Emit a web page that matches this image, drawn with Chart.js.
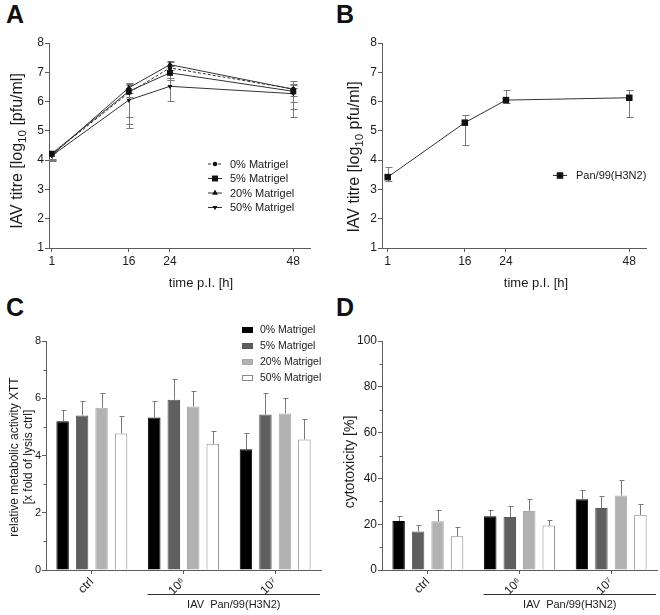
<!DOCTYPE html>
<html><head><meta charset="utf-8">
<script src="https://cdn.jsdelivr.net/npm/chart.js@4.4.1/dist/chart.umd.min.js"></script>
<style>
body{margin:0;background:#fff;width:660px;height:615px;position:relative;overflow:hidden;font-family:"Liberation Sans",Arial,sans-serif;}
.cv{position:absolute;}
.lab{position:absolute;font-weight:bold;font-size:25px;line-height:25px;color:#111;}
</style></head><body>
<div class="lab" style="left:6px;top:2px">A</div>
<div class="lab" style="left:336px;top:2px">B</div>
<div class="lab" style="left:6px;top:295px">C</div>
<div class="lab" style="left:336px;top:295px">D</div>
<canvas id="cA" class="cv" width="330" height="300" style="left:0;top:0"></canvas>
<canvas id="cB" class="cv" width="330" height="300" style="left:330px;top:0"></canvas>
<canvas id="cC" class="cv" width="330" height="305" style="left:0;top:310px"></canvas>
<canvas id="cD" class="cv" width="330" height="305" style="left:330px;top:310px"></canvas>
<script>
// ---------- data ----------
const hoursPI = [1, 16, 24, 48];
const titreTicks = [1, 2, 3, 4, 5, 6, 7, 8];
const matrigelSeries = ['0% Matrigel', '5% Matrigel', '20% Matrigel', '50% Matrigel'];

const titreM0 = [4.20, 6.30, 7.15, 6.43];
const titreM0Low = [4.02, 5.23, 6.80, 6.00];
const titreM0High = [4.30, 6.55, 7.35, 6.69];
const titreM5 = [4.22, 6.35, 6.98, 6.35];
const titreM5Low = [4.05, 5.49, 6.75, 5.75];
const titreM5High = [4.28, 6.60, 7.20, 6.55];
const titreM20 = [4.17, 6.47, 7.26, 6.42];
const titreM20Low = [4.00, 6.15, 7.08, 6.20];
const titreM20High = [4.27, 6.65, 7.40, 6.60];
const titreM50 = [4.15, 6.05, 6.52, 6.27];
const titreM50Low = [3.98, 5.11, 6.02, 5.47];
const titreM50High = [4.25, 6.30, 6.75, 6.45];

const panLabel = 'Pan/99(H3N2)';
const titrePan = [3.42, 5.28, 6.05, 6.13];
const titrePanLow = [3.30, 4.51, 5.95, 5.47];
const titrePanHigh = [3.75, 5.55, 6.40, 6.38];

const doseGroups = ['ctrl', '10⁶', '10⁷'];
const xttTicks = [0, 2, 4, 6, 8];
const xttMinor = [1, 3, 5, 7];
const xttM0 = [5.20, 5.33, 4.22];  const xttM0Err = [0.38, 0.57, 0.55];
const xttM5 = [5.40, 5.95, 5.43];  const xttM5Err = [0.50, 0.72, 0.76];
const xttM20 = [5.67, 5.71, 5.47]; const xttM20Err = [0.52, 0.56, 0.55];
const xttM50 = [4.77, 4.41, 4.56]; const xttM50Err = [0.61, 0.44, 0.71];

const cytoTicks = [0, 20, 40, 60, 80, 100];
const cytoMinor = [10, 30, 50, 70, 90];
const cytoM0 = [21.4, 23.5, 30.9];  const cytoM0Err = [2.2, 2.5, 4.0];
const cytoM5 = [16.8, 23.1, 27.1];  const cytoM5Err = [2.8, 4.8, 5.3];
const cytoM20 = [21.3, 25.8, 32.5]; const cytoM20Err = [5.0, 5.1, 6.8];
const cytoM50 = [14.7, 19.4, 24.1]; const cytoM50Err = [4.1, 2.6, 4.7];

const groupCaption = 'IAV  Pan/99(H3N2)';

// ---------- styling ----------
const FONT = '"Liberation Sans", Arial, sans-serif';
const TXT = '#1a1a1a';
const AX = '#5c5c5c';
const ERR = '#7a7a7a';
const LINE = '#333333';
const barFills = ['#000000', '#5f5f5f', '#b2b2b2', '#ffffff'];
const barEdges = ['#000000', '#555555', '#a8a8a8', '#8a8a8a'];

function marker(ctx, style, x, y, r, rot) {
  ctx.beginPath();
  if (style === 'circle') ctx.arc(x, y, r, 0, Math.PI * 2);
  else if (style === 'rect') { const s = r * Math.SQRT1_2; ctx.rect(x - s, y - s, 2 * s, 2 * s); }
  else if (style === 'triangle') {
    let a = (rot || 0) * Math.PI / 180;
    ctx.moveTo(x + Math.sin(a) * r, y - Math.cos(a) * r);
    a += 2 * Math.PI / 3; ctx.lineTo(x + Math.sin(a) * r, y - Math.cos(a) * r);
    a += 2 * Math.PI / 3; ctx.lineTo(x + Math.sin(a) * r, y - Math.cos(a) * r);
    ctx.closePath();
  }
  ctx.fill();
}

function drawParts(ctx, parts, x, y, size, rot) {
  ctx.save(); ctx.translate(x, y); ctx.rotate(rot || 0);
  ctx.fillStyle = TXT; ctx.textBaseline = 'middle'; ctx.textAlign = 'left';
  let total = 0;
  const ws = parts.map(p => { ctx.font = (p.sub ? size * 0.72 : size) + 'px ' + FONT; const w = ctx.measureText(p.t).width; total += w; return w; });
  let cx = -total / 2;
  parts.forEach((p, i) => {
    ctx.font = (p.sub ? size * 0.72 : size) + 'px ' + FONT;
    ctx.fillText(p.t, cx, p.sub ? size * 0.28 : 0);
    cx += ws[i];
  });
  ctx.restore();
}

const annot = {
  id: 'annot',
  beforeDatasetsDraw(chart, args, o) { if (!o.errOnTop) drawErr(chart, o); },
  afterDatasetsDraw(chart, args, o) { if (o.errOnTop) drawErr(chart, o); },
  afterDraw(chart, args, o) {
    const ctx = chart.ctx;
    (o.texts || []).forEach(t => drawParts(ctx, t.parts, t.x, t.y, t.size, t.rot));
    if (o.minor) {
      const ys = chart.scales.y;
      ctx.save(); ctx.strokeStyle = AX; ctx.lineWidth = 1;
      o.minor.forEach(v => {
        const y = Math.round(ys.getPixelForValue(v)) + 0.5;
        ctx.beginPath(); ctx.moveTo(chart.chartArea.left - 2.5, y); ctx.lineTo(chart.chartArea.left, y); ctx.stroke();
      });
      ctx.restore();
    }
    if (o.lineLegend) {
      const L = o.lineLegend;
      chart.data.datasets.forEach((ds, i) => {
        const y = L.y0 + i * L.dy;
        ctx.save();
        ctx.strokeStyle = ds.borderColor; ctx.lineWidth = 1;
        ctx.setLineDash(ds.borderDash || []);
        ctx.beginPath(); ctx.moveTo(L.x0, y + 0.5); ctx.lineTo(L.x1, y + 0.5); ctx.stroke();
        ctx.setLineDash([]);
        ctx.fillStyle = ds.pointBackgroundColor;
        marker(ctx, ds.pointStyle, (L.x0 + L.x1) / 2, y + 0.5, ds.pointRadius, ds.pointRotation);
        ctx.fillStyle = TXT; ctx.font = L.size + 'px ' + FONT;
        ctx.textBaseline = 'middle'; ctx.textAlign = 'left';
        ctx.fillText(ds.label, L.textX, y + 1);
        ctx.restore();
      });
    }
    if (o.boxLegend) {
      const L = o.boxLegend;
      chart.data.datasets.forEach((ds, i) => {
        const y = L.y0 + i * L.dy;
        ctx.save();
        ctx.fillStyle = ds.backgroundColor; ctx.strokeStyle = ds.borderColor; ctx.lineWidth = 1;
        ctx.fillRect(L.x, y - L.h / 2, L.w, L.h);
        ctx.strokeRect(L.x + 0.5, y - L.h / 2 + 0.5, L.w - 1, L.h - 1);
        ctx.fillStyle = TXT; ctx.font = L.size + 'px ' + FONT;
        ctx.textBaseline = 'middle'; ctx.textAlign = 'left';
        ctx.fillText(ds.label, L.textX, y + 0.5);
        ctx.restore();
      });
    }
    if (o.group) {
      const G = o.group, xs = chart.scales.x;
      const catW = (xs.right - xs.left) / chart.data.labels.length;
      const x0 = xs.getPixelForValue(G.fromCat) - catW * 0.85 / 2 + 3;
      const x1 = chart.chartArea.right - 1;
      ctx.save(); ctx.strokeStyle = '#333'; ctx.lineWidth = 1;
      ctx.beginPath(); ctx.moveTo(x0, G.y + 0.5); ctx.lineTo(x1, G.y + 0.5); ctx.stroke();
      ctx.restore();
      drawParts(ctx, [{ t: G.text }], (x0 + x1) / 2, G.textY, G.size, 0);
    }
  }
};

function drawErr(chart, o) {
  if (!o.err) return;
  const ctx = chart.ctx, ys = chart.scales.y;
  ctx.save(); ctx.strokeStyle = ERR; ctx.lineWidth = 1;
  o.err.forEach((e, di) => {
    const meta = chart.getDatasetMeta(di);
    meta.data.forEach((el, j) => {
      const x = Math.round(el.x) + 0.5;
      const hi = Math.round(ys.getPixelForValue(e.high[j])) + 0.5;
      const lo = e.low ? Math.round(ys.getPixelForValue(e.low[j])) + 0.5 : el.y;
      ctx.beginPath();
      ctx.moveTo(x, lo); ctx.lineTo(x, hi);
      ctx.moveTo(x - e.cap, hi); ctx.lineTo(x + e.cap + 1, hi);
      if (e.low) { ctx.moveTo(x - e.cap, lo); ctx.lineTo(x + e.cap + 1, lo); }
      ctx.stroke();
    });
  });
  ctx.restore();
}

function lineDs(label, vals, style, r, rot, dash) {
  return {
    label, data: hoursPI.map((h, i) => ({ x: h, y: vals[i] })),
    borderColor: LINE, borderWidth: 1, borderDash: dash || [],
    pointStyle: style, pointRadius: r, pointRotation: rot || 0,
    pointBackgroundColor: '#111', pointBorderColor: '#111', pointBorderWidth: 0,
    tension: 0, fill: false
  };
}
function barDs(label, vals, k) {
  return { label, data: vals, backgroundColor: barFills[k], borderColor: barEdges[k], borderWidth: 1,
    categoryPercentage: 0.85, barPercentage: 0.64 };
}
const tickFont = { family: FONT, size: 12 };
function xLinear(min, max, h) {
  return { type: 'linear', min, max,
    afterBuildTicks: s => { s.ticks = hoursPI.map(v => ({ value: v })); },
    afterFit: s => { s.height = h; },
    ticks: { font: tickFont, color: TXT, padding: 2, autoSkip: false, maxRotation: 0 },
    grid: { drawOnChartArea: false, tickLength: 4, color: AX },
    border: { color: AX, width: 1 } };
}
function yLinear(min, max, ticksArr, w, fs) {
  return { type: 'linear', min, max,
    afterBuildTicks: s => { s.ticks = ticksArr.map(v => ({ value: v })); },
    afterFit: s => { s.width = w; },
    ticks: { font: { family: FONT, size: fs || 12 }, color: TXT, padding: 1 },
    grid: { drawOnChartArea: false, tickLength: 4, color: AX },
    border: { color: AX, width: 1 } };
}
function xCat(h) {
  return { type: 'category', afterFit: s => { s.height = h; },
    ticks: { font: tickFont, color: TXT, padding: 1, minRotation: 45, maxRotation: 45, autoSkip: false },
    grid: { offset: false, drawOnChartArea: false, tickLength: 4, color: AX },
    border: { color: AX, width: 1 } };
}
const base = { responsive: false, animation: false, devicePixelRatio: 1, events: [] };

// ---------- Panel A ----------
new Chart(document.getElementById('cA'), {
  type: 'line',
  data: { datasets: [
    lineDs(matrigelSeries[0], titreM0, 'circle', 2.3, 0, [3, 2]),
    lineDs(matrigelSeries[1], titreM5, 'rect', 4.2, 0),
    lineDs(matrigelSeries[2], titreM20, 'triangle', 3.4, 0),
    lineDs(matrigelSeries[3], titreM50, 'triangle', 2.8, 180)
  ] },
  options: Object.assign({}, base, {
    layout: { padding: { left: 0, top: 43, right: 20, bottom: 0 } },
    scales: { x: xLinear(0.47, 51.25, 52), y: yLinear(1, 8, titreTicks, 49) },
    plugins: { legend: { display: false }, tooltip: { enabled: false },
      annot: {
        err: [
          { low: titreM0Low, high: titreM0High, cap: 3 },
          { low: titreM5Low, high: titreM5High, cap: 3 },
          { low: titreM20Low, high: titreM20High, cap: 3 },
          { low: titreM50Low, high: titreM50High, cap: 3 }
        ],
        texts: [
          { parts: [{ t: 'IAV titre [log' }, { t: '10', sub: true }, { t: ' [pfu/ml]' }], x: 18, y: 151, size: 16, rot: -Math.PI / 2 },
          { parts: [{ t: 'time p.I. [h]' }], x: 201, y: 283, size: 13 }
        ],
        lineLegend: { x0: 208, x1: 222, textX: 230, y0: 163.5, dy: 14.5, size: 11 }
      } }
  }),
  plugins: [annot]
});

// ---------- Panel B ----------
new Chart(document.getElementById('cB'), {
  type: 'line',
  data: { datasets: [ lineDs(panLabel, titrePan, 'rect', 4.6, 0) ] },
  options: Object.assign({}, base, {
    layout: { padding: { left: 0, top: 43, right: 14, bottom: 0 } },
    scales: { x: xLinear(-0.11, 51.25, 52), y: yLinear(1, 8, titreTicks, 52) },
    plugins: { legend: { display: false }, tooltip: { enabled: false },
      annot: {
        err: [ { low: titrePanLow, high: titrePanHigh, cap: 3 } ],
        texts: [
          { parts: [{ t: 'IAV titre [log' }, { t: '10', sub: true }, { t: ' pfu/ml]' }], x: 25, y: 157, size: 16, rot: -Math.PI / 2 },
          { parts: [{ t: 'time p.I. [h]' }], x: 206, y: 283, size: 13 }
        ],
        lineLegend: { x0: 223, x1: 237, textX: 246, y0: 175, dy: 14.5, size: 11 }
      } }
  }),
  plugins: [annot]
});

// ---------- Panel C ----------
new Chart(document.getElementById('cC'), {
  type: 'bar',
  data: { labels: doseGroups, datasets: [
    barDs(matrigelSeries[0], xttM0, 0), barDs(matrigelSeries[1], xttM5, 1),
    barDs(matrigelSeries[2], xttM20, 2), barDs(matrigelSeries[3], xttM50, 3)
  ] },
  options: Object.assign({}, base, {
    layout: { padding: { left: 0, top: 31, right: 9, bottom: 0 } },
    scales: { x: xCat(45), y: yLinear(0, 8, xttTicks, 46, 11) },
    plugins: { legend: { display: false }, tooltip: { enabled: false },
      annot: {
        errOnTop: true,
        err: [
          { high: xttM0.map((v, i) => v + xttM0Err[i]), cap: 2 },
          { high: xttM5.map((v, i) => v + xttM5Err[i]), cap: 2 },
          { high: xttM20.map((v, i) => v + xttM20Err[i]), cap: 2 },
          { high: xttM50.map((v, i) => v + xttM50Err[i]), cap: 2 }
        ],
        minor: xttMinor,
        texts: [
          { parts: [{ t: 'relative metabolic activity XTT' }], x: 15, y: 147, size: 12, rot: -Math.PI / 2 },
          { parts: [{ t: '[x fold of lysis ctrl]' }], x: 29, y: 147, size: 12, rot: -Math.PI / 2 }
        ],
        boxLegend: { x: 242, w: 11, h: 6, textX: 260, y0: 20, dy: 16, size: 10.5 },
        group: { fromCat: 1, y: 284, textY: 295, text: groupCaption, size: 11 }
      } }
  }),
  plugins: [annot]
});

// ---------- Panel D ----------
new Chart(document.getElementById('cD'), {
  type: 'bar',
  data: { labels: doseGroups, datasets: [
    barDs(matrigelSeries[0], cytoM0, 0), barDs(matrigelSeries[1], cytoM5, 1),
    barDs(matrigelSeries[2], cytoM20, 2), barDs(matrigelSeries[3], cytoM50, 3)
  ] },
  options: Object.assign({}, base, {
    layout: { padding: { left: 0, top: 31, right: 3, bottom: 0 } },
    scales: { x: xCat(45), y: yLinear(0, 100, cytoTicks, 52) },
    plugins: { legend: { display: false }, tooltip: { enabled: false },
      annot: {
        errOnTop: true,
        err: [
          { high: cytoM0.map((v, i) => v + cytoM0Err[i]), cap: 2 },
          { high: cytoM5.map((v, i) => v + cytoM5Err[i]), cap: 2 },
          { high: cytoM20.map((v, i) => v + cytoM20Err[i]), cap: 2 },
          { high: cytoM50.map((v, i) => v + cytoM50Err[i]), cap: 2 }
        ],
        minor: cytoMinor,
        texts: [
          { parts: [{ t: 'cytotoxicity [%]' }], x: 20, y: 152, size: 14, rot: -Math.PI / 2 }
        ],
        boxLegend: { x: 570, w: 11, h: 6, textX: 589, y0: 20, dy: 16, size: 10.5 },
        group: { fromCat: 1, y: 284, textY: 295, text: groupCaption, size: 11 }
      } }
  }),
  plugins: [annot]
});
</script>
</body></html>
